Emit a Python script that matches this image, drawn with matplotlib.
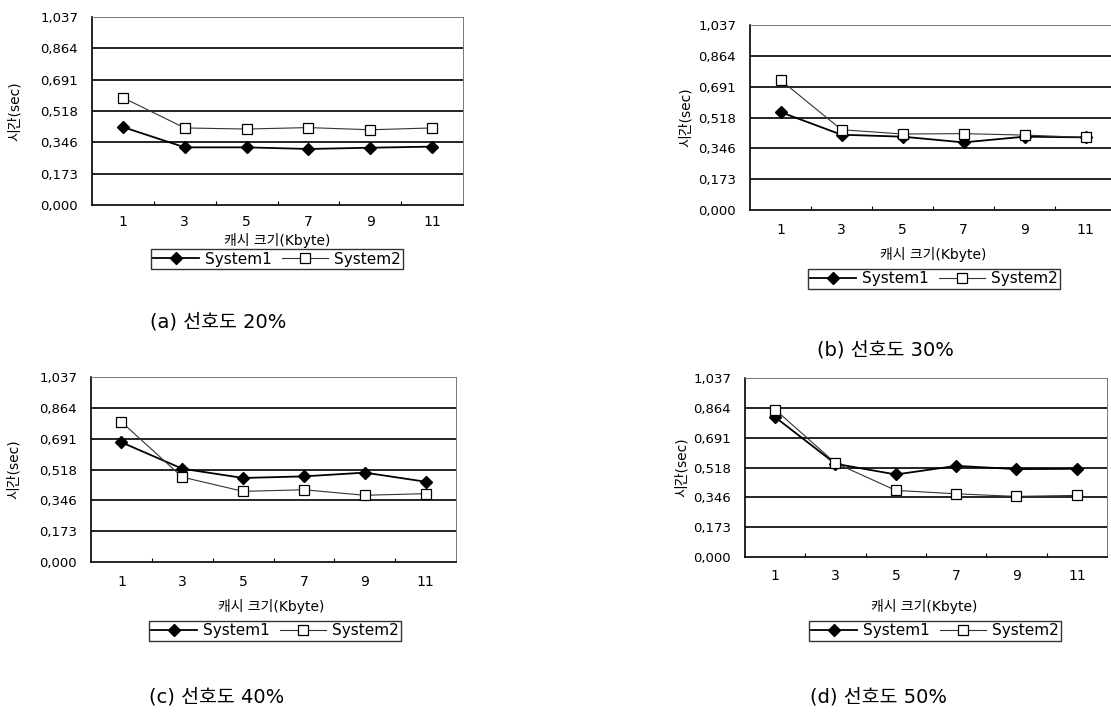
import matplotlib
matplotlib.use("Agg")
import matplotlib.pyplot as plt
from matplotlib.ticker import FixedLocator

plt.rcParams["font.family"] = ["DejaVu Sans", "Noto Sans CJK KR"]

# DATA

cache_sizes = ["1", "3", "5", "7", "9", "11"]
y_ticks = [0.000, 0.173, 0.346, 0.518, 0.691, 0.864, 1.037]
y_tick_labels = ["0,000", "0,173", "0,346", "0,518", "0,691", "0,864", "1,037"]

a_system1 = [0.430, 0.318, 0.318, 0.309, 0.316, 0.322]
a_system2 = [0.592, 0.425, 0.419, 0.427, 0.415, 0.425]
b_system1 = [0.549, 0.422, 0.411, 0.379, 0.411, 0.407]
b_system2 = [0.729, 0.450, 0.426, 0.428, 0.420, 0.407]
c_system1 = [0.671, 0.523, 0.471, 0.480, 0.501, 0.450]
c_system2 = [0.785, 0.476, 0.396, 0.405, 0.374, 0.383]
d_system1 = [0.810, 0.540, 0.478, 0.528, 0.509, 0.511]
d_system2 = [0.854, 0.544, 0.386, 0.366, 0.351, 0.357]

captions = ["(a) 선호도 20%", "(b) 선호도 30%", "(c) 선호도 40%", "(d) 선호도 50%"]

# LAYOUT (pixels in a 1111 x 714 figure)

W, H = 1111, 714

PANELS = [
    # axes box (left, right, top, bottom), ylabel x, xlabel (x, y), legend (x, y), caption (x, y)
    dict(box=(92, 463, 17, 205), ylab=15, xlab=(277, 240), tpad=7, leg=(277, 259), cap=(150, 322),
         s1=a_system1, s2=a_system2),
    dict(box=(750, 1116, 25, 210), ylab=686, xlab=(933, 254), tpad=9, leg=(934, 279), cap=(817, 350),
         s1=b_system1, s2=b_system2),
    dict(box=(91, 456, 377, 562), ylab=14, xlab=(271, 606), tpad=9, leg=(275, 631), cap=(149, 697),
         s1=c_system1, s2=c_system2),
    dict(box=(745, 1107, 378, 557), ylab=682, xlab=(924, 606), tpad=9, leg=(935, 631), cap=(810, 697),
         s1=d_system1, s2=d_system2),
]


def fx(x):
    return x / W


def fy(y):
    return 1 - y / H


fig = plt.figure(figsize=(W / 100, H / 100), dpi=100)

for p, cap in zip(PANELS, captions):
    l, r, t, b = p["box"]
    ax = fig.add_axes([fx(l), fy(b), (r - l) / W, (b - t) / H])
    xs = range(len(cache_sizes))

    # horizontal grid lines like the Excel chart
    for v in y_ticks[1:-1]:
        ax.axhline(v, color="black", linewidth=1.2, zorder=1)

    ax.plot(xs, p["s1"], color="black", linewidth=1.3, marker="D", markersize=6,
            markerfacecolor="black", markeredgecolor="black", label="System1", zorder=3)
    ax.plot(xs, p["s2"], color="#333333", linewidth=0.8, marker="s", markersize=6.5,
            markerfacecolor="white", markeredgecolor="black", markeredgewidth=0.9,
            label="System2", zorder=4)

    ax.set_xlim(-0.5, len(cache_sizes) - 0.5)
    ax.set_ylim(0, 1.037)
    ax.set_yticks(y_ticks)
    ax.set_yticklabels(y_tick_labels, fontsize=9.5)
    ax.set_xticks(list(xs))
    ax.set_xticklabels(cache_sizes, fontsize=10)
    ax.xaxis.set_minor_locator(FixedLocator([i + 0.5 for i in range(len(cache_sizes) - 1)]))
    ax.tick_params(axis="x", which="major", length=0, pad=p["tpad"])
    ax.tick_params(axis="x", which="minor", length=3, direction="in", width=0.8)
    ax.tick_params(axis="y", length=0, pad=10)

    ax.spines["left"].set_linewidth(1.2)
    ax.spines["bottom"].set_linewidth(1.2)
    ax.spines["top"].set_color("#777777")
    ax.spines["top"].set_linewidth(0.7)
    ax.spines["right"].set_color("#777777")
    ax.spines["right"].set_linewidth(0.7)

    fig.text(fx(p["ylab"]), fy((t + b) / 2), "시간(sec)", rotation=90,
             ha="center", va="center", fontsize=10)
    fig.text(fx(p["xlab"][0]), fy(p["xlab"][1]), "캐시 크기(Kbyte)",
             ha="center", va="center", fontsize=10)

    leg = ax.legend(loc="center", bbox_to_anchor=(fx(p["leg"][0]), fy(p["leg"][1])),
                    bbox_transform=fig.transFigure, ncol=2, fontsize=11,
                    frameon=True, fancybox=False, edgecolor="black",
                    handlelength=3.0, handletextpad=0.4, columnspacing=0.7,
                    borderpad=0.15, borderaxespad=0)
    leg.get_frame().set_linewidth(1.0)

    fig.text(fx(p["cap"][0]), fy(p["cap"][1]), cap, ha="left", va="center",
             fontsize=14, family=["DejaVu Sans", "Noto Sans CJK KR"])

fig.savefig("out.png", dpi=100)
